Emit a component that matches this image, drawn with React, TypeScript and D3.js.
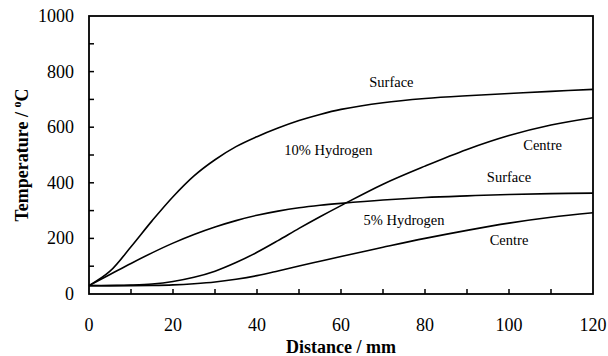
import React, { useRef, useEffect } from 'react';
import * as d3 from 'd3';

// distance along the sample, mm
const distance = [0, 5, 10, 15, 20, 25, 30, 35, 40, 45, 50, 55, 60, 70, 80, 90, 100, 110, 120];
// temperatures, °C
const h10Surface = [30, 82, 170, 263, 350, 425, 483, 530, 566, 597, 624, 646, 664, 688, 703, 713, 721, 729, 736];
const h10Centre = [30, 30, 32, 36, 45, 60, 82, 113, 150, 192, 236, 278, 318, 395, 460, 520, 570, 608, 634];
const h5Surface = [30, 70, 110, 148, 183, 214, 241, 264, 283, 298, 310, 319, 326, 338, 347, 353, 358, 361, 363];
const h5Centre = [30, 30, 30, 31, 33, 37, 43, 53, 66, 83, 101, 118, 135, 168, 200, 229, 255, 276, 292];

const xTicks = [0, 20, 40, 60, 80, 100, 120];
const yTicks = [0, 200, 400, 600, 800, 1000];

// labels: [text, distance, temperature]
const annotations: [string, number, number][] = [
  ['Surface', 72, 763],
  ['10% Hydrogen', 57, 518],
  ['Centre', 108, 535],
  ['Surface', 100, 422],
  ['5% Hydrogen', 75, 265],
  ['Centre', 100, 193],
];

const App = () => {
  const svgRef = useRef<SVGSVGElement>(null);

  useEffect(() => {
    const svg = d3.select(svgRef.current);
    svg.selectAll('*').remove();

    const left = 89, right = 593, top = 16, bottom = 294;
    const font = '"Liberation Serif", "Times New Roman", serif';

    const x = d3.scaleLinear().domain([0, 120]).range([left, right]);
    const y = d3.scaleLinear().domain([0, 1000]).range([bottom, top]);

    const g = svg.append('g');

    // curves
    const line = d3.line<number>()
      .x((d, i) => x(distance[i]))
      .y(d => y(d))
      .curve(d3.curveCatmullRom.alpha(0.5));

    [h10Surface, h10Centre, h5Surface, h5Centre].forEach(values => {
      g.append('path')
        .datum(values)
        .attr('d', line)
        .attr('fill', 'none')
        .attr('stroke', '#000')
        .attr('stroke-width', 1.6);
    });

    // frame
    g.append('rect')
      .attr('x', left).attr('y', top)
      .attr('width', right - left).attr('height', bottom - top)
      .attr('fill', 'none')
      .attr('stroke', '#000')
      .attr('stroke-width', 1.8);

    // inward ticks
    g.selectAll('.xtick')
      .data(d3.range(10, 120, 10))
      .enter().append('line')
      .attr('x1', d => x(d)).attr('x2', d => x(d))
      .attr('y1', bottom).attr('y2', bottom - 5)
      .attr('stroke', '#000').attr('stroke-width', 1.5);

    g.selectAll('.ytick')
      .data(d3.range(100, 1000, 100))
      .enter().append('line')
      .attr('x1', left).attr('x2', left + 5)
      .attr('y1', d => y(d)).attr('y2', d => y(d))
      .attr('stroke', '#000').attr('stroke-width', 1.5);

    // tick labels
    g.selectAll('.xlab')
      .data(xTicks)
      .enter().append('text')
      .attr('x', d => x(d))
      .attr('y', 331)
      .attr('text-anchor', 'middle')
      .style('font-family', font)
      .style('font-size', '18px')
      .text(d => d);

    g.selectAll('.ylab')
      .data(yTicks)
      .enter().append('text')
      .attr('x', 74)
      .attr('y', d => y(d) + 6)
      .attr('text-anchor', 'end')
      .style('font-family', font)
      .style('font-size', '18px')
      .text(d => d);

    // axis titles
    g.append('text')
      .attr('x', x(60))
      .attr('y', 353)
      .attr('text-anchor', 'middle')
      .style('font-family', font)
      .style('font-size', '18px')
      .style('font-weight', 'bold')
      .text('Distance / mm');

    const yt = g.append('text')
      .attr('transform', `translate(28,${(top + bottom) / 2}) rotate(-90)`)
      .attr('text-anchor', 'middle')
      .style('font-family', font)
      .style('font-size', '18px')
      .style('font-weight', 'bold');
    yt.append('tspan').text('Temperature / ');
    yt.append('tspan').attr('dy', -7).style('font-size', '12px').text('o');
    yt.append('tspan').attr('dy', 7).text('C');

    // curve labels
    g.selectAll('.note')
      .data(annotations)
      .enter().append('text')
      .attr('x', d => x(d[1]))
      .attr('y', d => y(d[2]) + 5)
      .attr('text-anchor', 'middle')
      .style('font-family', font)
      .style('font-size', '14.5px')
      .text(d => d[0]);
  }, []);

  return (
    <svg ref={svgRef} width={608} height={356}
      style={{ position: 'absolute', left: 0, top: 0, background: '#fff' }} />
  );
};

export default App;
